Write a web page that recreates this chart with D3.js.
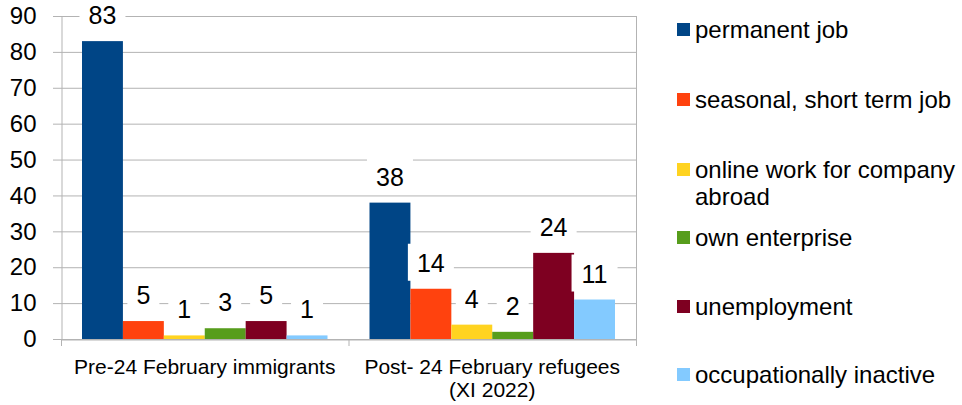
<!DOCTYPE html>
<html>
<head>
<meta charset="utf-8">
<script src="https://cdn.jsdelivr.net/npm/d3@7"></script>
<style>
  body { margin: 0; background: #fff; }
  svg { font-family: "Liberation Sans", Arial, sans-serif; }
</style>
</head>
<body>
<div id="chart"></div>
<script>
// data
const groups = ["Pre-24 February immigrants", "Post- 24 February refugees (XI 2022)"];
const groupLines = [["Pre-24 February immigrants"], ["Post- 24 February refugees", "(XI 2022)"]];
const seriesNames = ["permanent job", "seasonal, short term job", "online work for company abroad",
  "own enterprise", "unemployment", "occupationally inactive"];
const legendLines = [["permanent job"], ["seasonal, short term job"], ["online work for company", "abroad"],
  ["own enterprise"], ["unemployment"], ["occupationally inactive"]];
const preValues = [83, 5, 1, 3, 5, 1];
const postValues = [38, 14, 4, 2, 24, 11];
const yTicks = [0, 10, 20, 30, 40, 50, 60, 70, 80, 90];
const colors = ["#004586", "#ff420e", "#ffd320", "#579d1c", "#7e0021", "#83caff"];

const W = 962, H = 405;
const plotLeft = 61, plotRight = 636, plotTop = 16, plotBottom = 339;

const svg = d3.select("#chart").append("svg")
  .attr("width", W).attr("height", H);

const x0 = d3.scaleBand().domain(groups).range([plotLeft, plotRight]).paddingInner(0).paddingOuter(0);
const x1 = d3.scaleBand().domain(seriesNames).range([21, x0.bandwidth() - 21]).padding(0);
const y = d3.scaleLinear().domain([0, 90]).range([plotBottom, plotTop]);
const color = d3.scaleOrdinal().domain(seriesNames).range(colors);

// gridlines
svg.append("g")
  .selectAll("line").data(yTicks).enter().append("line")
  .attr("x1", plotLeft - 8).attr("x2", plotRight)
  .attr("y1", d => y(d) + 0.5).attr("y2", d => y(d) + 0.5)
  .attr("stroke", "#b3b3b3").attr("stroke-width", 1);

// y axis
const yAxis = svg.append("g")
  .attr("transform", "translate(" + (plotLeft + 0.5) + ",0)")
  .call(d3.axisLeft(y).tickValues(yTicks).tickSize(0).tickPadding(25));
yAxis.select(".domain").attr("stroke", "#b3b3b3");
yAxis.selectAll("text").attr("font-size", 24).attr("fill", "#000")
  .attr("font-family", "Liberation Sans, Arial, sans-serif");

// right border
svg.append("line")
  .attr("x1", plotRight + 0.5).attr("x2", plotRight + 0.5)
  .attr("y1", plotTop).attr("y2", plotBottom)
  .attr("stroke", "#b3b3b3");

// x axis
const xAxis = svg.append("g")
  .attr("transform", "translate(0," + (plotBottom + 0.5) + ")")
  .call(d3.axisBottom(x0).tickSize(0).tickFormat(""));
xAxis.select(".domain").attr("stroke", "#b3b3b3");
xAxis.selectAll(".tick").remove();
svg.append("g").selectAll("line")
  .data([plotLeft, plotLeft + x0.bandwidth(), plotRight]).enter().append("line")
  .attr("x1", d => d + 0.5).attr("x2", d => d + 0.5)
  .attr("y1", plotBottom).attr("y2", plotBottom + 7)
  .attr("stroke", "#b3b3b3");

// category labels
groups.forEach((g, i) => {
  const t = svg.append("text")
    .attr("x", x0(g) + x0.bandwidth() / 2)
    .attr("y", 374)
    .attr("text-anchor", "middle")
    .attr("font-size", 21).attr("fill", "#000");
  groupLines[i].forEach((ln, j) => {
    t.append("tspan").attr("x", x0(g) + x0.bandwidth() / 2)
      .attr("dy", j === 0 ? 0 : 23).text(ln);
  });
});

const data = groups.map((g, i) => ({
  group: g,
  values: seriesNames.map((s, k) => ({ key: s, value: i === 0 ? preValues[k] : postValues[k] }))
}));

// bars
const gGroups = svg.selectAll(".grp").data(data).enter().append("g")
  .attr("transform", d => "translate(" + x0(d.group) + ",0)");

gGroups.selectAll("rect").data(d => d.values).enter().append("rect")
  .attr("x", d => x1(d.key))
  .attr("y", d => y(d.value))
  .attr("width", x1.bandwidth())
  .attr("height", d => plotBottom - y(d.value))
  .attr("fill", d => color(d.key));

// data labels with white boxes
const lab = gGroups.selectAll(".lab").data(d => d.values).enter().append("g");
lab.each(function(d) {
  const g = d3.select(this);
  const cx = x1(d.key) + x1.bandwidth() / 2;
  const base = y(d.value) - 17;
  const txt = String(d.value);
  const w = txt.length * 14 + 18;
  g.append("rect")
    .attr("x", cx - w / 2).attr("y", base - 28)
    .attr("width", w).attr("height", 37)
    .attr("fill", "#fff");
  g.append("text")
    .attr("x", cx).attr("y", base)
    .attr("text-anchor", "middle")
    .attr("font-size", 25).attr("fill", "#000")
    .text(txt);
});

// legend
const legendY = [30, 100, 170, 238, 307, 375];
const leg = svg.append("g");
seriesNames.forEach((s, i) => {
  const cy = legendY[i];
  leg.append("rect")
    .attr("x", 677).attr("y", cy - 7)
    .attr("width", 13).attr("height", 13)
    .attr("fill", color(s));
  const t = leg.append("text")
    .attr("x", 695).attr("y", cy + 8)
    .attr("font-size", 24).attr("fill", "#000");
  legendLines[i].forEach((ln, j) => {
    t.append("tspan").attr("x", 695).attr("dy", j === 0 ? 0 : 27).text(ln);
  });
});
</script>
</body>
</html>
